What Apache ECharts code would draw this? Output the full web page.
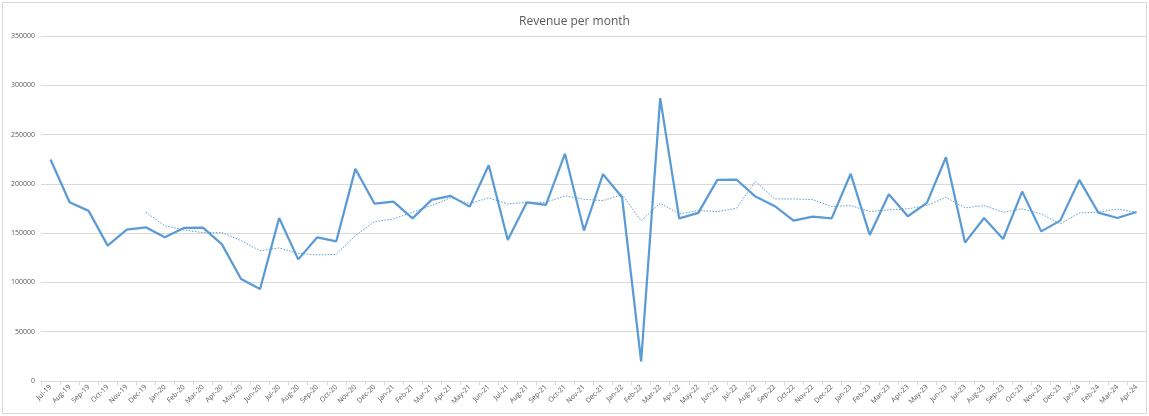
<!DOCTYPE html>
<html>
<head>
<meta charset="utf-8">
<script src="https://cdn.jsdelivr.net/npm/echarts@6/dist/echarts.min.js"></script>
<style>
  html, body { margin: 0; padding: 0; background: #fff; }
  #main { position: absolute; left: 2px; top: 2px; width: 1143px; height: 410px; border: 1px solid #d9d9d9; }
</style>
</head>
<body>
<div id="main"></div>
<script>
// month labels
let months = ['Jul-19','Aug-19','Sep-19','Oct-19','Nov-19','Dec-19',
  'Jan-20','Feb-20','Mar-20','Apr-20','May-20','Jun-20','Jul-20','Aug-20','Sep-20','Oct-20','Nov-20','Dec-20',
  'Jan-21','Feb-21','Mar-21','Apr-21','May-21','Jun-21','Jul-21','Aug-21','Sep-21','Oct-21','Nov-21','Dec-21',
  'Jan-22','Feb-22','Mar-22','Apr-22','May-22','Jun-22','Jul-22','Aug-22','Sep-22','Oct-22','Nov-22','Dec-22',
  'Jan-23','Feb-23','Mar-23','Apr-23','May-23','Jun-23','Jul-23','Aug-23','Sep-23','Oct-23','Nov-23','Dec-23',
  'Jan-24','Feb-24','Mar-24','Apr-24'];

// monthly revenue
let revenue = [224700, 181300, 172600, 137300, 153600, 155900,
  145800, 155300, 155600, 138600, 103500, 93300, 165400, 123400, 145800, 141700, 215200, 180000,
  182000, 165000, 183700, 187800, 176900, 218900, 143100, 181300, 178600, 230500, 152600, 209800,
  186400, 19800, 287000, 165000, 170500, 204000, 204400, 187100, 177600, 162700, 166800, 165000,
  210200, 148200, 189400, 167100, 180700, 227000, 140400, 165400, 144100, 192200, 151800, 162700,
  204000, 170800, 165400, 171500];

// dotted trend line (moving average)
let trend = ['-', '-', '-', '-', '-', 171200,
  157600, 153300, 150500, 150500, 142400, 132200, 135000, 129500, 127900, 128500, 147500, 161700,
  164400, 171200, 178000, 185800, 180000, 185800, 179700, 181300, 181300, 187800, 184400, 183000,
  189100, 162700, 180300, 169500, 172900, 171900, 175200, 202600, 184700, 184700, 184000, 176900,
  178000, 171900, 173600, 174600, 178000, 186400, 175600, 178000, 171200, 174600, 169500, 159400,
  170400, 171200, 174400, 171200];

let yTicks = [0, 350000, 50000]; // min, max, step

var chart = echarts.init(document.getElementById('main'));
var option = {
  animation: false,
  title: {
    text: 'Revenue per month',
    left: 'center',
    top: 8,
    textStyle: { fontSize: 12, fontWeight: 'normal', color: '#595959', fontFamily: 'Open Sans' }
  },
  grid: { left: 38, right: 0, top: 33, bottom: 32 },
  xAxis: {
    type: 'category',
    data: months,
    boundaryGap: true,
    axisLine: { lineStyle: { color: '#d9d9d9' } },
    axisTick: { show: true, length: 4, lineStyle: { color: '#d9d9d9' } },
    axisLabel: { rotate: 45, interval: 0, fontSize: 7, color: '#595959', margin: 5, fontFamily: 'Open Sans' },
    splitLine: { show: false }
  },
  yAxis: {
    type: 'value',
    min: yTicks[0],
    max: yTicks[1],
    interval: yTicks[2],
    axisLine: { show: false },
    axisTick: { show: false },
    axisLabel: {
      fontSize: 7, color: '#595959', margin: 6, fontFamily: 'Open Sans',
      formatter: function (v) { return String(v); }
    },
    splitLine: { lineStyle: { color: '#d9d9d9', width: 1 } }
  },
  series: [
    {
      name: 'Revenue',
      type: 'line',
      data: revenue,
      showSymbol: false,
      lineStyle: { color: '#5b9bd5', width: 2.25 },
      itemStyle: { color: '#5b9bd5' }
    },
    {
      name: 'Trend',
      type: 'line',
      data: trend,
      showSymbol: false,
      lineStyle: { color: '#5b9bd5', width: 1, type: [1.5, 1.5] },
      itemStyle: { color: '#5b9bd5' }
    }
  ]
};
chart.setOption(option);
</script>
</body>
</html>
